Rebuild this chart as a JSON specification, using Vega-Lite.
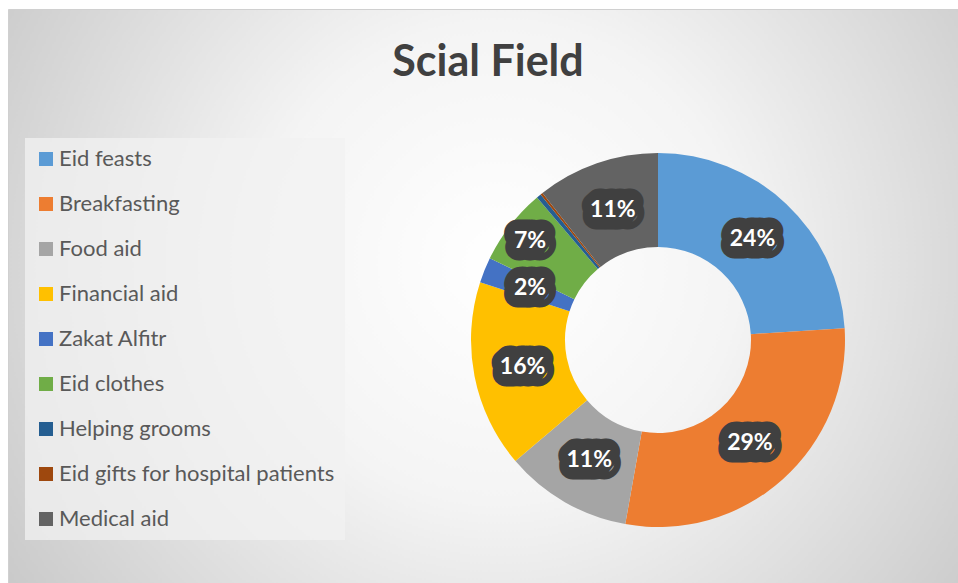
{
  "$schema": "https://vega.github.io/schema/vega-lite/v6.json",
  "width": 1300,
  "height": 662,
  "autosize": {"type": "none"},
  "padding": {"left": 8, "top": 9, "right": -350, "bottom": -88},
  "background": "#ffffff",
  "view": {
    "fill": {
      "gradient": "radial",
      "x1": 0.378, "y1": 0.44, "r1": 0,
      "x2": 0.378, "y2": 0.44, "r2": 0.46,
      "stops": [
        {"offset": 0, "color": "#ffffff"},
        {"offset": 0.4, "color": "#f4f4f4"},
        {"offset": 1, "color": "#c8c8c8"}
      ]
    },
    "stroke": "#d0d0d0",
    "strokeWidth": 1
  },
  "title": {
    "text": "Scial Field",
    "font": "Lato",
    "fontSize": 43,
    "fontWeight": "bold",
    "color": "#404040",
    "anchor": "middle",
    "frame": "group",
    "dx": -170,
    "offset": -76
  },
  "data": {
    "values": [
      {"id": 1, "cat": "Eid feasts", "value": 0.240},
      {"id": 2, "cat": "Breakfasting", "value": 0.288},
      {"id": 3, "cat": "Food aid", "value": 0.110},
      {"id": 4, "cat": "Financial aid", "value": 0.162},
      {"id": 5, "cat": "Zakat Alfitr", "value": 0.022},
      {"id": 6, "cat": "Eid clothes", "value": 0.066},
      {"id": 7, "cat": "Helping grooms", "value": 0.004},
      {"id": 8, "cat": "Eid gifts for hospital patients", "value": 0.002},
      {"id": 9, "cat": "Medical aid", "value": 0.106}
    ]
  },
  "encoding": {
    "theta": {"field": "value", "type": "quantitative", "stack": true},
    "order": {"field": "id", "type": "quantitative"}
  },
  "layer": [
    {
      "mark": {"type": "arc", "innerRadius": 93, "outerRadius": 187},
      "encoding": {
        "color": {
          "field": "cat",
          "type": "nominal",
          "scale": {
            "domain": ["Eid feasts", "Breakfasting", "Food aid", "Financial aid", "Zakat Alfitr", "Eid clothes", "Helping grooms", "Eid gifts for hospital patients", "Medical aid"],
            "range": ["#5B9BD5", "#ED7D31", "#A5A5A5", "#FFC000", "#4472C4", "#70AD47", "#255E91", "#9E480E", "#636363"]
          },
          "legend": {
            "orient": "none",
            "legendX": 17,
            "legendY": 129,
            "title": null,
            "symbolType": "square",
            "symbolSize": 196,
            "symbolStrokeWidth": 0,
            "labelFont": "Lato",
            "labelFontSize": 22,
            "labelColor": "#595959",
            "labelOffset": 2,
            "labelLimit": 400,
            "rowPadding": 23,
            "padding": 10,
            "fillColor": "rgba(242,242,242,0.75)"
          }
        }
      }
    },
    {
      "mark": {"type": "text", "font": "Lato", "fontSize": 19, "fontWeight": "bold", "align": "center", "baseline": "middle", "fill": "#404040", "stroke": "#404040", "strokeWidth": 27, "strokeJoin": "round"},
      "encoding": {
        "text": {"condition": {"test": "datum.value < 0.01", "value": ""}, "field": "value", "type": "quantitative", "format": ".0%"},
        "radius": {"value": {"expr": "datum.cat === 'Eid clothes' ? 162 : 138"}}
      }
    },
    {
      "mark": {"type": "text", "font": "Lato", "fontSize": 23, "fontWeight": "bold", "align": "center", "baseline": "middle", "fill": "#ffffff"},
      "encoding": {
        "text": {"condition": {"test": "datum.value < 0.01", "value": ""}, "field": "value", "type": "quantitative", "format": ".0%"},
        "radius": {"value": {"expr": "datum.cat === 'Eid clothes' ? 162 : 138"}}
      }
    }
  ]
}
